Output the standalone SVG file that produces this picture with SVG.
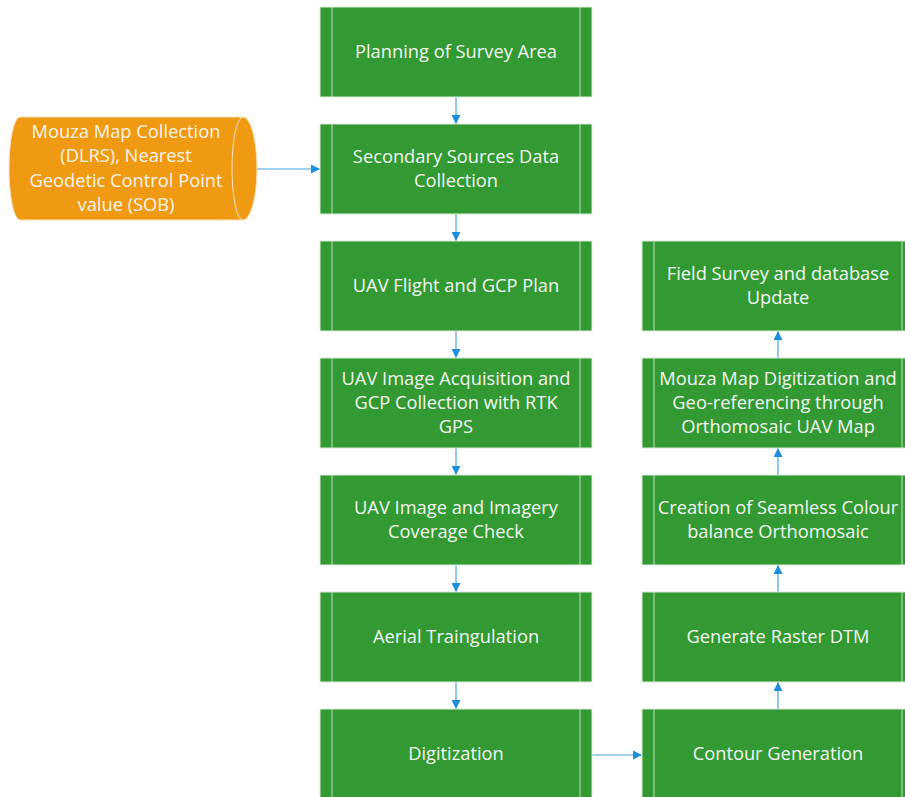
<svg xmlns="http://www.w3.org/2000/svg" width="905" height="797" viewBox="0 0 905 797">
<style>
.box{fill:#339933;stroke:#d8ecd8;stroke-width:1}
.inner{stroke:#bfe0bf;stroke-width:1}
.t{font-family:"Open Sans","Noto Sans",sans-serif;font-size:18.3px;fill:#f2f7f2;text-anchor:middle}
.to{font-family:"Open Sans","Noto Sans",sans-serif;font-size:18.3px;fill:#fdf5e8;text-anchor:middle}
.c{stroke:#45a3e0;stroke-width:1.2;fill:none;marker-end:url(#ah)}
</style>
<defs>
<marker id="ah" viewBox="0 0 10 10" refX="10" refY="5" markerWidth="9" markerHeight="9" markerUnits="userSpaceOnUse" orient="auto">
<path d="M0,0 L10,5 L0,10 z" fill="#1c8fdc"/>
</marker>
</defs>
<rect width="905" height="797" fill="#ffffff"/>
<g id="connectors">
<line class="c" x1="456" y1="97" x2="456" y2="124"/>
<line class="c" x1="257" y1="169" x2="320" y2="169"/>
<line class="c" x1="456" y1="214" x2="456" y2="241"/>
<line class="c" x1="456" y1="331" x2="456" y2="358"/>
<line class="c" x1="456" y1="448" x2="456" y2="475"/>
<line class="c" x1="456" y1="565" x2="456" y2="592"/>
<line class="c" x1="456" y1="682" x2="456" y2="709"/>
<line class="c" x1="592" y1="755" x2="642" y2="755"/>
<line class="c" x1="778" y1="709" x2="778" y2="682"/>
<line class="c" x1="778" y1="592" x2="778" y2="565"/>
<line class="c" x1="778" y1="475" x2="778" y2="448"/>
<line class="c" x1="778" y1="358" x2="778" y2="331"/>
</g>
<g id="mouza-data">
<path d="M20,117 L243,117 A14,51.5 0 0 1 243,220 L20,220 A11,51.5 0 0 1 20,117 z" fill="#ef9a12" stroke="#fbe3bd" stroke-width="1"/>
<path d="M243,117 A11,51.5 0 0 0 243,220" fill="none" stroke="#fbe3bd" stroke-width="1"/>
<text class="to" x="126" y="138">Mouza Map Collection</text>
<text class="to" x="126" y="162">(DLRS), Nearest</text>
<text class="to" x="126" y="187">Geodetic Control Point</text>
<text class="to" x="126" y="211">value (SOB)</text>
</g>
<g id="planning">
<rect class="box" x="320" y="7" width="272" height="90"/>
<line class="inner" x1="332" y1="7" x2="332" y2="97"/><line class="inner" x1="580" y1="7" x2="580" y2="97"/>
<text class="t" x="456" y="58">Planning of Survey Area</text>
</g>
<g id="secondary">
<rect class="box" x="320" y="124" width="272" height="90"/>
<line class="inner" x1="332" y1="124" x2="332" y2="214"/><line class="inner" x1="580" y1="124" x2="580" y2="214"/>
<text class="t" x="456" y="163">Secondary Sources Data</text>
<text class="t" x="456" y="187">Collection</text>
</g>
<g id="uav-flight">
<rect class="box" x="320" y="241" width="272" height="90"/>
<line class="inner" x1="332" y1="241" x2="332" y2="331"/><line class="inner" x1="580" y1="241" x2="580" y2="331"/>
<text class="t" x="456" y="292">UAV Flight and GCP Plan</text>
</g>
<g id="uav-acquisition">
<rect class="box" x="320" y="358" width="272" height="90"/>
<line class="inner" x1="332" y1="358" x2="332" y2="448"/><line class="inner" x1="580" y1="358" x2="580" y2="448"/>
<text class="t" x="456" y="385">UAV Image Acquisition and</text>
<text class="t" x="456" y="409">GCP Collection with RTK</text>
<text class="t" x="456" y="433">GPS</text>
</g>
<g id="coverage-check">
<rect class="box" x="320" y="475" width="272" height="90"/>
<line class="inner" x1="332" y1="475" x2="332" y2="565"/><line class="inner" x1="580" y1="475" x2="580" y2="565"/>
<text class="t" x="456" y="514">UAV Image and Imagery</text>
<text class="t" x="456" y="538">Coverage Check</text>
</g>
<g id="aerial-triangulation">
<rect class="box" x="320" y="592" width="272" height="90"/>
<line class="inner" x1="332" y1="592" x2="332" y2="682"/><line class="inner" x1="580" y1="592" x2="580" y2="682"/>
<text class="t" x="456" y="643">Aerial Traingulation</text>
</g>
<g id="digitization">
<rect class="box" x="320" y="709" width="272" height="90"/>
<line class="inner" x1="332" y1="709" x2="332" y2="799"/><line class="inner" x1="580" y1="709" x2="580" y2="799"/>
<text class="t" x="456" y="760">Digitization</text>
</g>
<g id="field-survey">
<rect class="box" x="642" y="241" width="272" height="90"/>
<line class="inner" x1="654" y1="241" x2="654" y2="331"/><line class="inner" x1="902" y1="241" x2="902" y2="331"/>
<text class="t" x="778" y="280">Field Survey and database</text>
<text class="t" x="778" y="304">Update</text>
</g>
<g id="mouza-digitization">
<rect class="box" x="642" y="358" width="272" height="90"/>
<line class="inner" x1="654" y1="358" x2="654" y2="448"/><line class="inner" x1="902" y1="358" x2="902" y2="448"/>
<text class="t" x="778" y="385">Mouza Map Digitization and</text>
<text class="t" x="778" y="409">Geo-referencing through</text>
<text class="t" x="778" y="433">Orthomosaic UAV Map</text>
</g>
<g id="orthomosaic">
<rect class="box" x="642" y="475" width="272" height="90"/>
<line class="inner" x1="654" y1="475" x2="654" y2="565"/><line class="inner" x1="902" y1="475" x2="902" y2="565"/>
<text class="t" x="778" y="514">Creation of Seamless Colour</text>
<text class="t" x="778" y="538">balance Orthomosaic</text>
</g>
<g id="raster-dtm">
<rect class="box" x="642" y="592" width="272" height="90"/>
<line class="inner" x1="654" y1="592" x2="654" y2="682"/><line class="inner" x1="902" y1="592" x2="902" y2="682"/>
<text class="t" x="778" y="643">Generate Raster DTM</text>
</g>
<g id="contour">
<rect class="box" x="642" y="709" width="272" height="90"/>
<line class="inner" x1="654" y1="709" x2="654" y2="799"/><line class="inner" x1="902" y1="709" x2="902" y2="799"/>
<text class="t" x="778" y="760">Contour Generation</text>
</g>
</svg>
